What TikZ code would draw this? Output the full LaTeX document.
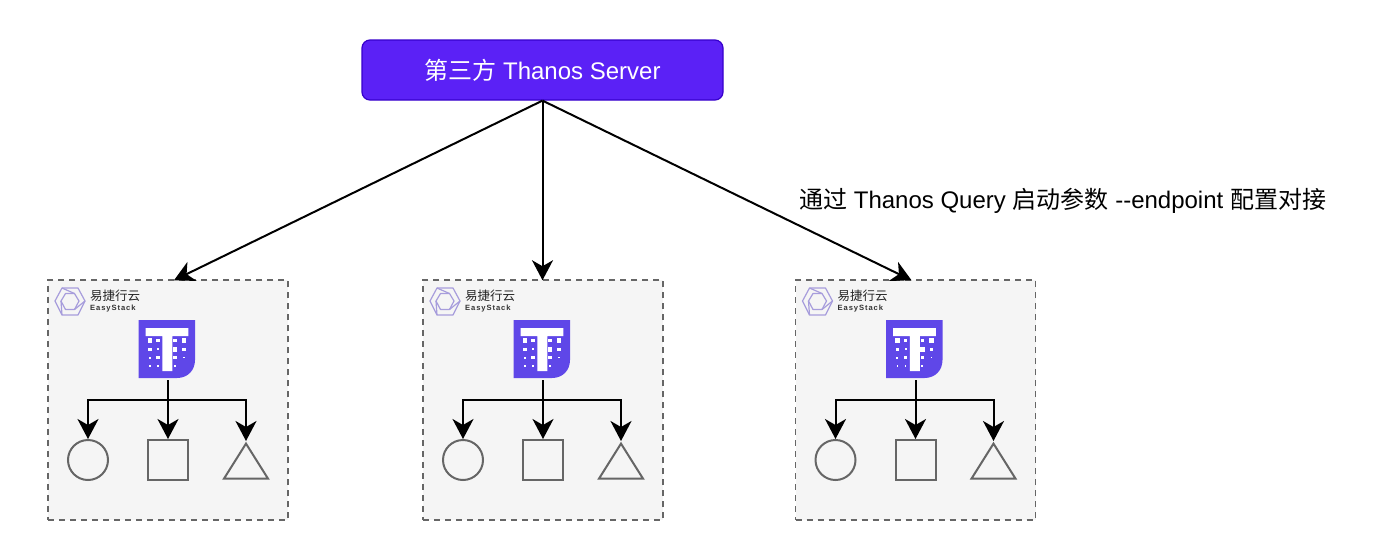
\documentclass[tikz,border=0pt]{standalone}
\usepackage{fontspec}
\setmainfont{Liberation Sans}
\newfontfamily\cjk{Noto Sans CJK SC}
\newfontfamily\esfont[LetterSpace=12]{Liberation Sans}
\usetikzlibrary{arrows.meta,shapes.geometric,calc}
\definecolor{purp}{HTML}{5B21F6}
\definecolor{purpd}{HTML}{3700CC}
\definecolor{tpurp}{HTML}{5F47E8}
\definecolor{logoc}{HTML}{A79DDC}
\tikzset{
  x=1pt,y=-1pt,
  server/.style={draw=purpd,line width=1.2pt,fill=purp,rounded corners=8pt,minimum width=361pt,minimum height=60pt,text=white,font=\fontsize{24}{28}\selectfont,inner sep=0pt},
  groupbox/.style={draw=black!60,dashed,dash pattern=on 6pt off 5pt,line width=1.5pt,fill=black!4,minimum width=240pt,minimum height=240pt,inner sep=0pt},
  shapeline/.style={draw=black!60,line width=2pt,inner sep=0pt},
  conn/.style={-{Stealth[length=20pt,width=21pt,inset=6pt]},line width=2pt,black},
  lbl/.style={inner sep=0pt,font=\fontsize{24}{28}\selectfont},
  logo/.style={draw=logoc,line width=1.2pt,line join=round},
}
\begin{document}
\begin{tikzpicture}
\useasboundingbox (0,0) rectangle (1382,558);
\fill[white] (0,0) rectangle (1382,558);

\node[server] (srv) at (542.5,70) {{\cjk 第三方} Thanos Server};
\node[lbl,anchor=west] (note) at (799,201) {{\cjk 通过} Thanos Query {\cjk 启动参数} -{}-endpoint {\cjk 配置对接}};

\foreach \n/\o/\e in {1/0/6,2/375/-0.5,3/747.5/-4}{
  \begin{scope}[shift={(\o,0)}]
    \node[groupbox] (box\n) at (168,400) {};
    \coordinate (in\n) at ($(box\n.north)+(\e,1)$);
    % logo
    \draw[logo] (55,301) -- (62,288) -- (78,288) -- (85,301) -- (78,315) -- (62,315) -- cycle;
    \draw[logo] (61,301) -- (65.5,293.5) -- (74.5,293.5) -- (79,301) -- (74.5,309.5) -- (65.5,309.5) -- cycle;
    \draw[logo] (62,288) -- (74.5,293.5);
    \draw[logo] (85,301) -- (74.5,309.5);
    \draw[logo] (62,315) -- (61,301);
    \node[inner sep=0pt,anchor=west,font=\cjk\fontsize{12.5}{14}\selectfont,text=black!85] (cn\n) at (90,296) {易捷行云};
    \node[inner sep=0pt,anchor=west,font=\esfont\bfseries\fontsize{7.6}{9}\selectfont,text=black!80] (en\n) at (90,308.7) {EasyStack};
    % T icon
    \fill[tpurp] (138.5,320) -- (195,320) -- (195,360) .. controls (195,370) and (188,378) .. (177,378) -- (138.5,378) -- cycle;
    \fill[white] (145.7,328) rectangle (188.3,336) (162.3,336) rectangle (172.3,371);
    \foreach \cx/\cy/\s in {11.3/20.7/4.5,19.6/20.7/3.5,36.3/20.7/3.5,45.3/20.7/4.5,
                            11.3/29.3/3.5,19.6/29.3/2,36.3/29.3/4.5,45.3/29.3/3.5,
                            11.3/37.7/2,19.6/37.7/3.5,36.3/37.7/3.5,45.3/37.7/1.5,
                            11.3/46/1.5,19.6/46/1.5,36.3/46/2}{
      \fill[white] ({138.5+\cx-\s/2},{320+\cy-\s/2}) rectangle ++(\s,\s);
    }
    \coordinate (t\n) at (168,380);
    \coordinate (hl\n) at (88,400);
    \coordinate (hr\n) at (246,400);
    \node[shapeline,circle,minimum size=40pt] (cir\n) at (88,460) {};
    \node[shapeline,rectangle,minimum size=40pt] (sq\n) at (168,460) {};
    \node[shapeline,isosceles triangle,isosceles triangle stretches,shape border rotate=90,minimum width=44pt,minimum height=35pt,anchor=apex] (tri\n) at (246,441) {};
    \draw[conn] (t\n) -- (sq\n.north);
    \draw[conn] (t\n |- hl\n) -- (hl\n) -- (cir\n.north);
    \draw[conn] (t\n |- hr\n) -- (hr\n) -- (tri\n.apex);
  \end{scope}
  \draw[conn] (srv.south) -- (in\n);
}
\end{tikzpicture}
\end{document}
